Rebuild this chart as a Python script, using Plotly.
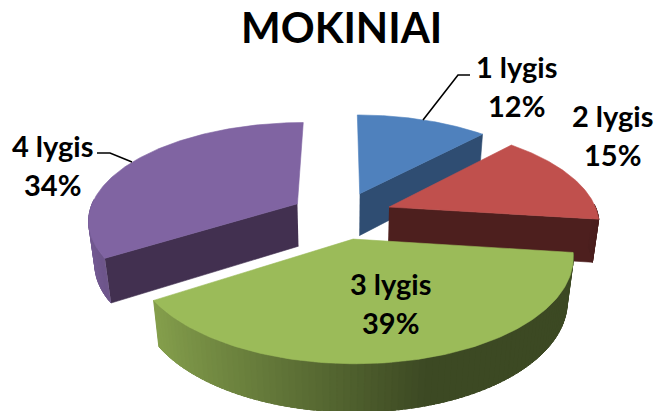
import numpy as np
import plotly.graph_objects as go

categories = ["1 lygis", "2 lygis", "3 lygis", "4 lygis"]
shares = [12, 15, 39, 34]
title_text = "MOKINIAI"

top_colors = ["#4f81bd", "#c0504d", "#9bbb59", "#8064a2"]
cut_colors = ["#2f4d72", "#4d1f1e", "#5d7035", "#423050"]
draw_order = [3, 0, 1, 2]
label_pos = [((516, 66), (516, 105)), ((612, 115), (612, 154)),
             ((390, 283), (390, 322)), ((52, 145), (52, 184))]

W, H = 655, 411
CX, CY, RX, RY, DEPTH = 341.5, 215.0, 209.0, 97.0, 44.0
K, M, EXPLODE = 0.155, 0.025, 0.245


def project(u, v, z):
    s = 1.0 / (1.0 + K * v + M * z)
    return CX + RX * u * s, CY - RY * v * s + DEPTH * z * s


def mix(a, b, t):
    ca = [int(a[i:i + 2], 16) for i in (1, 3, 5)]
    cb = [int(b[i:i + 2], 16) for i in (1, 3, 5)]
    return "rgb(%d,%d,%d)" % tuple(round(x + (y - x) * t) for x, y in zip(ca, cb))


def shade(c, f):
    return "#%02x%02x%02x" % tuple(round(int(c[i:i + 2], 16) * f) for i in (1, 3, 5))


def poly(fig, xs, ys, color, lw=0.6):
    fig.add_trace(go.Scatter(
        x=list(xs), y=list(ys), mode="lines", fill="toself", fillcolor=color,
        line=dict(color=color, width=lw), hoverinfo="skip", showlegend=False))


fig = go.Figure()
total = sum(shares)
edges = np.concatenate([[0], np.cumsum(shares)]) / total * 2 * np.pi

for i in draw_order:
    a0, a1 = edges[i], edges[i + 1]
    mid = (a0 + a1) / 2
    ox, oy = EXPLODE * np.sin(mid), EXPLODE * np.cos(mid)

    # cut faces: only those turned towards the viewer
    for a, facing in ((a0, np.sin(a0) < -1e-9), (a1, np.sin(a1) > 1e-9)):
        if not facing:
            continue
        u, v = ox + np.sin(a), oy + np.cos(a)
        p = [project(ox, oy, 0), project(u, v, 0), project(u, v, 1), project(ox, oy, 1)]
        poly(fig, [q[0] for q in p], [q[1] for q in p], cut_colors[i])

    # outer rim: overlapping bands, painted one after another so no seams show
    light, dark = shade(top_colors[i], 0.9), shade(top_colors[i], 0.39)
    bands = np.linspace(a0, a1, 91)
    visible = [j for j in range(len(bands) - 1) if np.cos((bands[j] + bands[j + 1]) / 2) < 0.03]
    visible.sort(key=lambda j: -bands[j])
    for j in visible:
        tm = (bands[j] + bands[j + 1]) / 2
        t = np.clip((np.sin(tm) + 0.95) / 1.25, 0, 1)
        seg = np.linspace(bands[j], min(bands[j + 1] + 0.02, a1), 5)
        su, sv = ox + np.sin(seg), oy + np.cos(seg)
        xa, ya = project(su, sv, 0)
        xb, yb = project(su, sv, 1)
        poly(fig, np.r_[xa, xb[::-1]], np.r_[ya, yb[::-1]], mix(light, dark, t), lw=1.0)

    # top surface
    th = np.linspace(a0, a1, 120)
    xs, ys = project(ox + np.sin(th), oy + np.cos(th), 0)
    ax, ay = project(ox, oy, 0)
    poly(fig, np.r_[ax, xs, ax], np.r_[ay, ys, ay], top_colors[i])

FONT = "Lato"
annotations = [dict(x=341, y=27, text="<b>%s</b>" % title_text, showarrow=False,
                    font=dict(family=FONT, size=42, color="#000000"))]
for name, share, (p1, p2) in zip(categories, shares, label_pos):
    annotations.append(dict(x=p1[0], y=p1[1], text="<b>%s</b>" % name, showarrow=False,
                            font=dict(family=FONT, size=29, color="#000000")))
    annotations.append(dict(x=p2[0], y=p2[1], text="<b>%d%%</b>" % share, showarrow=False,
                            font=dict(family=FONT, size=29, color="#000000")))

leaders = ["M423 120 L458 75 L470 75", "M132 162 L110 153 L97 153"]
shapes = [dict(type="path", path=p, xref="x", yref="y",
               line=dict(color="#000000", width=1.6)) for p in leaders]

fig.update_layout(
    width=W, height=H, margin=dict(l=0, r=0, t=0, b=0),
    paper_bgcolor="#ffffff", plot_bgcolor="#ffffff",
    xaxis=dict(range=[0, W], visible=False, fixedrange=True),
    yaxis=dict(range=[H, 0], visible=False, fixedrange=True),
    annotations=annotations, shapes=shapes, showlegend=False,
)
fig.write_html("out.html", config=dict(displayModeBar=False),
               post_script="document.body.style.margin='0';")
